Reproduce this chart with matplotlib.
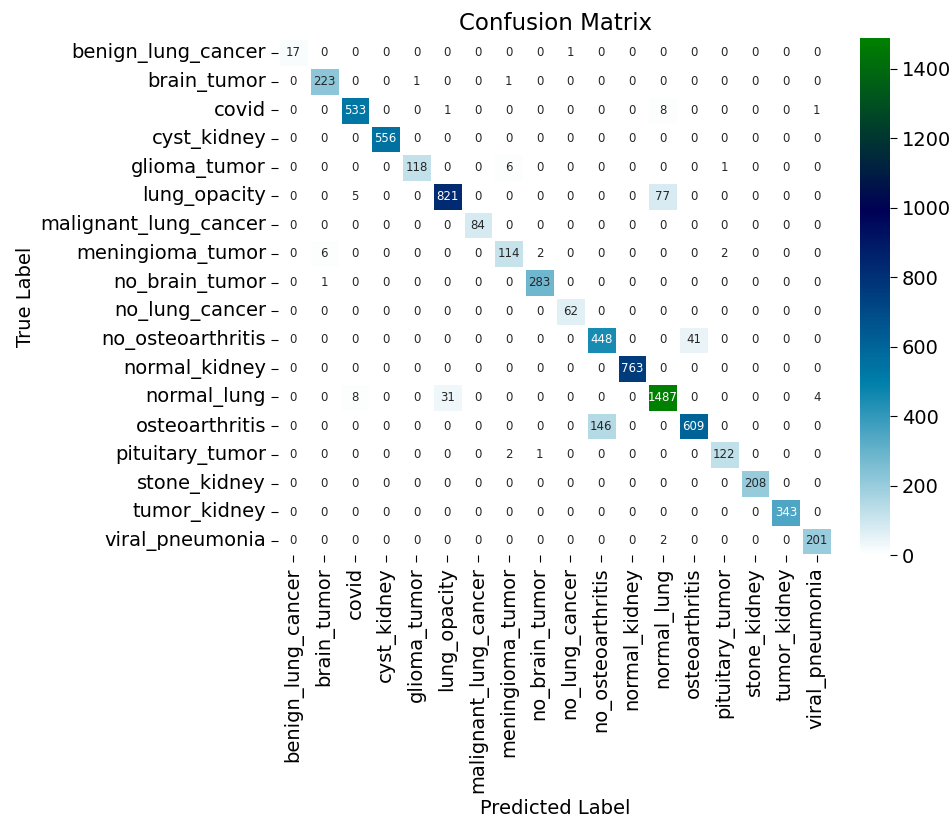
import matplotlib

matplotlib.use("Agg")
import matplotlib.pyplot as plt
import numpy as np
import seaborn as sns

CLASS_NAMES = [
    "benign_lung_cancer", "brain_tumor", "covid", "cyst_kidney", "glioma_tumor",
    "lung_opacity", "malignant_lung_cancer", "meningioma_tumor", "no_brain_tumor",
    "no_lung_cancer", "no_osteoarthritis", "normal_kidney", "normal_lung",
    "osteoarthritis", "pituitary_tumor", "stone_kidney", "tumor_kidney",
    "viral_pneumonia",
]

CONFUSION = np.array([
    [17, 0, 0, 0, 0, 0, 0, 0, 0, 1, 0, 0, 0, 0, 0, 0, 0, 0],
    [0, 223, 0, 0, 1, 0, 0, 1, 0, 0, 0, 0, 0, 0, 0, 0, 0, 0],
    [0, 0, 533, 0, 0, 1, 0, 0, 0, 0, 0, 0, 8, 0, 0, 0, 0, 1],
    [0, 0, 0, 556, 0, 0, 0, 0, 0, 0, 0, 0, 0, 0, 0, 0, 0, 0],
    [0, 0, 0, 0, 118, 0, 0, 6, 0, 0, 0, 0, 0, 0, 1, 0, 0, 0],
    [0, 0, 5, 0, 0, 821, 0, 0, 0, 0, 0, 0, 77, 0, 0, 0, 0, 0],
    [0, 0, 0, 0, 0, 0, 84, 0, 0, 0, 0, 0, 0, 0, 0, 0, 0, 0],
    [0, 6, 0, 0, 0, 0, 0, 114, 2, 0, 0, 0, 0, 0, 2, 0, 0, 0],
    [0, 1, 0, 0, 0, 0, 0, 0, 283, 0, 0, 0, 0, 0, 0, 0, 0, 0],
    [0, 0, 0, 0, 0, 0, 0, 0, 0, 62, 0, 0, 0, 0, 0, 0, 0, 0],
    [0, 0, 0, 0, 0, 0, 0, 0, 0, 0, 448, 0, 0, 41, 0, 0, 0, 0],
    [0, 0, 0, 0, 0, 0, 0, 0, 0, 0, 0, 763, 0, 0, 0, 0, 0, 0],
    [0, 0, 8, 0, 0, 31, 0, 0, 0, 0, 0, 0, 1487, 0, 0, 0, 0, 4],
    [0, 0, 0, 0, 0, 0, 0, 0, 0, 0, 146, 0, 0, 609, 0, 0, 0, 0],
    [0, 0, 0, 0, 0, 0, 0, 2, 1, 0, 0, 0, 0, 0, 122, 0, 0, 0],
    [0, 0, 0, 0, 0, 0, 0, 0, 0, 0, 0, 0, 0, 0, 0, 208, 0, 0],
    [0, 0, 0, 0, 0, 0, 0, 0, 0, 0, 0, 0, 0, 0, 0, 0, 343, 0],
    [0, 0, 0, 0, 0, 0, 0, 0, 0, 0, 0, 0, 2, 0, 0, 0, 0, 201],
])


def main() -> None:
    fig = plt.figure(figsize=(9.52, 8.19), dpi=100)
    ax = fig.add_axes([0.292, 0.322, 0.582, 0.631])
    cax = fig.add_axes([0.903, 0.322, 0.032, 0.631])

    sns.heatmap(
        CONFUSION,
        annot=True,
        fmt="d",
        cmap="ocean_r",
        linewidths=1,
        linecolor="white",
        annot_kws={"fontsize": 8.5},
        xticklabels=CLASS_NAMES,
        yticklabels=CLASS_NAMES,
        ax=ax,
        cbar_ax=cax,
    )
    ax.set_title("Confusion Matrix", fontsize=16.5, pad=6)
    ax.set_xlabel("Predicted Label", fontsize=14)
    ax.set_ylabel("True Label", fontsize=14)
    ax.tick_params(axis="both", labelsize=14, length=5)
    plt.setp(ax.get_xticklabels(), rotation=90)
    plt.setp(ax.get_yticklabels(), rotation=0)
    cax.tick_params(labelsize=14, length=5)
    cax.set_frame_on(False)

    fig.savefig("out.png", dpi=100)
    plt.close(fig)


if __name__ == "__main__":
    main()
